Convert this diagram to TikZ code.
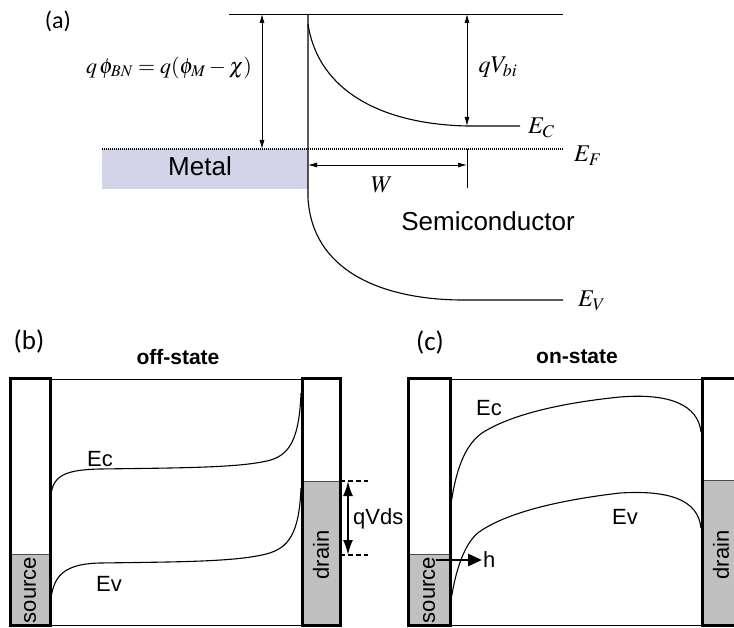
\documentclass[tikz,border=0pt]{standalone}
\usepackage{mathptmx}
\usepackage[no-math]{fontspec}
\setmainfont{Liberation Sans}
\newfontfamily\calibri{Carlito}
\usetikzlibrary{arrows.meta,positioning}

\definecolor{metalc}{RGB}{212,212,232}
\definecolor{dopec}{RGB}{192,192,192}

\begin{document}
\begin{tikzpicture}[x=1pt, y=-1pt,
  lbl/.style={font=\fontsize{22}{26}\selectfont, inner sep=1pt},
  bigl/.style={font=\fontsize{26}{30}\selectfont, inner sep=1pt},
  tag/.style={font=\calibri\fontsize{27}{31}\selectfont, inner sep=1pt},
  ttl/.style={font=\bfseries\fontsize{21}{25}\selectfont, inner sep=1pt},
  mth/.style={font=\fontsize{24}{28}\selectfont, inner sep=1pt},
  bandline/.style={line width=1.1pt},
  railthin/.style={line width=0.9pt},
  sidebar/.style={draw, line width=3pt},
  fermi/.style={line width=1.3pt, dash pattern=on 1pt off 1pt},
  dimarr/.style={{Latex[length=9pt,width=5pt]}-{Latex[length=9pt,width=5pt]}, line width=0.8pt},
  qarr/.style={{Latex[length=15pt,width=10pt]}-{Latex[length=15pt,width=10pt]}, line width=2pt},
  harr/.style={-{Triangle[length=14pt,width=12pt]}, line width=2.5pt},
  lvl/.style={dash pattern=on 5pt off 3pt, line width=1.5pt},
]
\useasboundingbox (0,0) rectangle (734,628);

%--- (a) Metal / Semiconductor ---
\node[tag, font=\calibri\fontsize{24}{28}\selectfont] (aTag) at (58,21) {(a)};
\coordinate (aTL) at (229,14);
\coordinate (aTR) at (563,14);
\coordinate (aJ)  at (308,14);
\draw[railthin] (aTL) -- (aTR);

\fill[metalc] (102,149) rectangle (308,189);
\node[bigl] (metal) at (200,166) {Metal};
\node[bigl] (semi) at (488,221) {Semiconductor};

\coordinate (aFL) at (102,149);
\coordinate (aFR) at (563,149);
\draw[fermi] (aFL) -- (aFR);

\draw[bandline] (aJ) -- (308,198) .. controls (312,270) and (380,299) .. (460,300) -- (563,300);
\draw[bandline] (308,24) .. controls (318,90) and (380,124) .. (467,126) -- (520,126);

\node[mth, anchor=west] (aEC) at (527,128) {$E_C$};
\node[mth, anchor=west] (aEF) at (573,156) {$E_F$};
\node[mth, anchor=west] (aEV) at (577,301) {$E_V$};

\coordinate (aB1) at (262,14);
\coordinate (aB2) at (262,149);
\draw[dimarr] (aB1) -- (aB2);
\node[mth, font=\fontsize{22}{26}\selectfont] (aPhi) at (169,68) {$q\,\phi_{BN} = q(\phi_M - \chi)$};

\coordinate (aV1) at (467,14);
\coordinate (aV2) at (467,126);
\draw[dimarr] (aV1) -- (aV2);
\node[mth] (aVbi) at (498,67) {$qV_{bi}$};

\coordinate (aW1) at (308,165);
\coordinate (aW2) at (467,165);
\draw[dimarr] (aW1) -- (aW2);
\draw[railthin] (467,149) -- (467,188);
\node[mth] (aW) at (382,185) {$W$};

%--- (b) off-state ---
\node[tag] (bTag) at (29,341) {(b)};
\node[ttl] (bTtl) at (178,357) {off-state};
\fill[dopec] (10,554) rectangle (50,625);
\fill[dopec] (302,481) rectangle (340,625);
\draw[railthin, black!70] (10,554) -- (50,554);
\draw[railthin, black!70] (302,481) -- (340,481);
\draw[sidebar] (10,379) rectangle (50,625);
\draw[sidebar] (302,379) rectangle (340,625);
\draw[railthin] (50,379) -- (302,379);
\draw[railthin] (50,625) -- (302,625);
\node[lbl, rotate=90] (bSrc) at (30,590) {source};
\node[lbl, rotate=90] (bDrn) at (321,555) {drain};

\draw[bandline] (50,505) .. controls (51,478) and (58,470) .. (100,469)
  .. controls (170,468) and (230,468) .. (262,462)
  .. controls (285,458) and (299,448) .. (301,393);
\draw[bandline] (50,612) .. controls (51,580) and (58,564) .. (100,563)
  .. controls (170,562) and (230,562) .. (262,555)
  .. controls (285,550) and (299,540) .. (301,488);
\node[lbl] (bEc) at (100,459) {Ec};
\node[lbl] (bEv) at (109,584) {Ev};

\coordinate (bq1) at (348,481);
\coordinate (bq2) at (348,555);
\draw[lvl] (340,481) -- (368,481);
\draw[lvl] (340,555) -- (368,555);
\draw[qarr] (bq1) -- (bq2);
\node[lbl, anchor=west] (bqV) at (352,519) {qVds};

%--- (c) on-state ---
\node[tag] (cTag) at (430,342) {(c)};
\node[ttl] (cTtl) at (577,357) {on-state};
\fill[dopec] (408,554) rectangle (450,625);
\fill[dopec] (702,480) rectangle (745,625);
\draw[railthin, black!70] (408,554) -- (450,554);
\draw[railthin, black!70] (702,480) -- (745,480);
\draw[sidebar] (408,379) rectangle (450,625);
\draw[sidebar] (702,379) rectangle (745,625);
\draw[railthin] (450,379) -- (702,379);
\draw[railthin] (450,625) -- (702,625);
\node[lbl, rotate=90] (cSrc) at (429,590) {source};
\node[lbl, rotate=90] (cDrn) at (721,555) {drain};

\draw[bandline] (450,512) .. controls (455,470) and (465,445) .. (482,433)
  .. controls (510,415) and (560,403) .. (620,397)
  .. controls (670,393) and (698,405) .. (701,432);
\draw[bandline] (450,607) .. controls (455,570) and (465,540) .. (482,530)
  .. controls (510,512) and (560,500) .. (620,493)
  .. controls (670,490) and (698,500) .. (701,528);
\node[lbl] (cEc) at (489,408) {Ec};
\node[lbl] (cEv) at (625,517) {Ev};

\coordinate (ch0) at (436,560);
\node[lbl, anchor=west] (chL) at (482,560) {h};
\draw[harr] (ch0) -- (chL.west);

\end{tikzpicture}
\end{document}
